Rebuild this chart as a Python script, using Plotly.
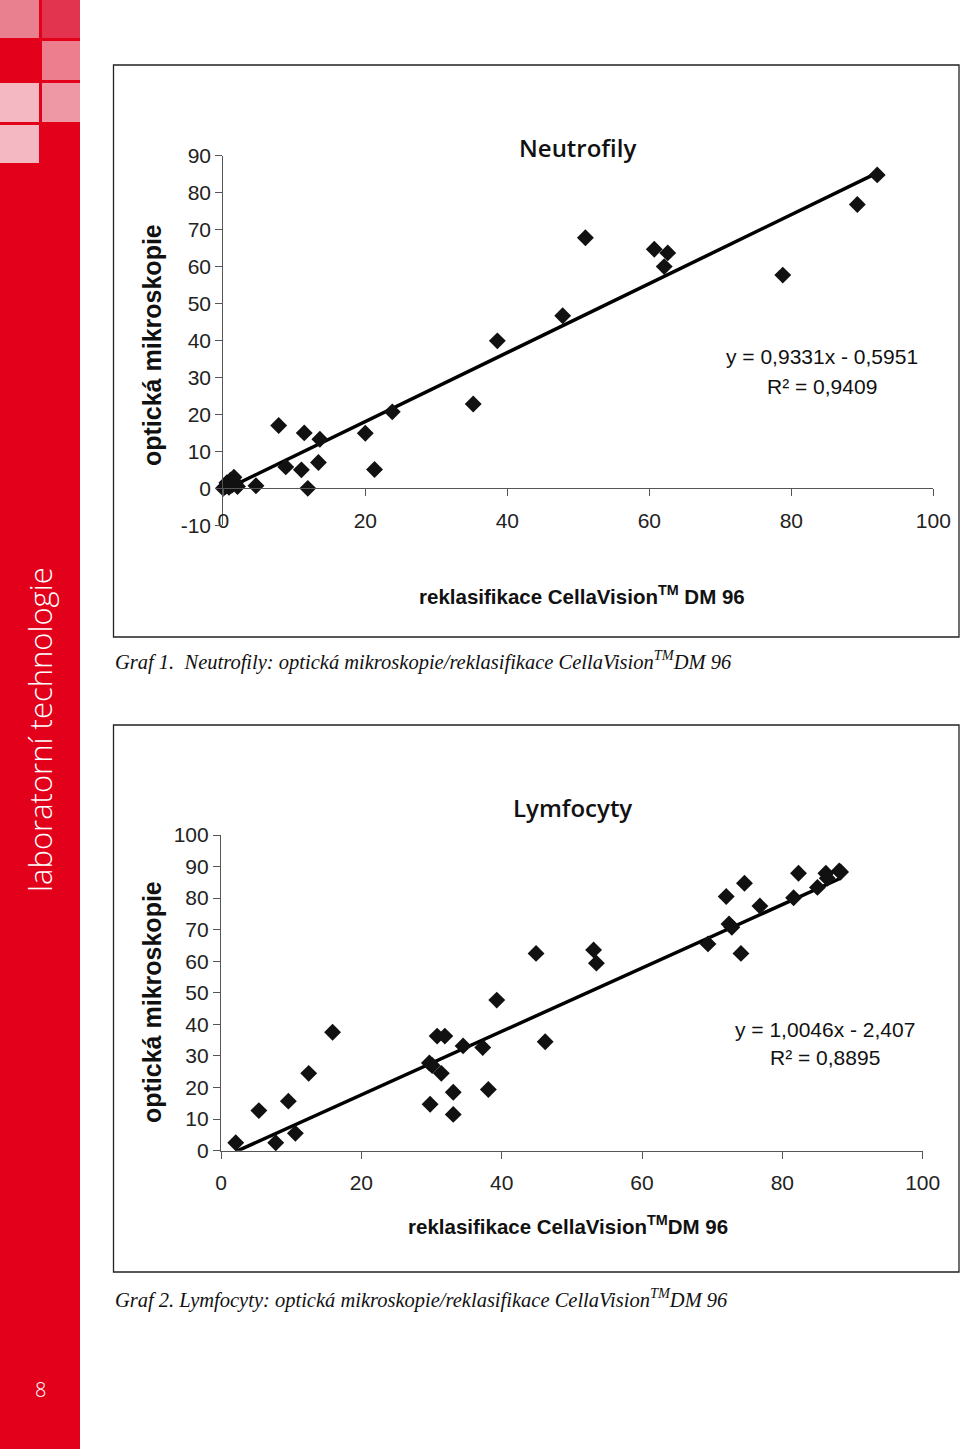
import plotly.graph_objects as go

W, H = 960, 1449

# ---------------- data ----------------
neutro_x = [0, 0.3, 0.5, 0.8, 1.0, 1.2, 1.5, 1.7, 2.0, 4.6,
            7.8, 8.8, 11.0, 11.4, 11.9, 13.4, 13.6, 20.0, 21.3, 23.8,
            35.2, 38.6, 47.8, 51.0, 60.7, 62.1, 62.6, 78.8, 89.3, 92.1]
neutro_y = [0, 0.5, 1.5, 0.3, 2.2, 0.8, 3.0, 1.5, 0.5, 0.7,
            17, 5.8, 5.0, 15, 0, 7.0, 13.3, 14.9, 5.1, 20.7,
            22.8, 39.9, 46.7, 67.8, 64.7, 60.0, 63.7, 57.7, 76.8, 84.8]
neutro_slope, neutro_icpt = 0.9331, -0.5951

lympho_x = [2.1, 5.4, 7.8, 9.6, 10.6, 12.5, 15.9,
            29.8, 29.7, 30.1, 30.8, 31.9, 31.4, 33.1, 33.1, 34.5, 37.3, 38.1, 39.3,
            44.9, 46.2, 53.1, 53.5,
            69.4, 72.0, 72.4, 72.8, 74.1, 74.6, 76.8,
            81.6, 82.3, 85.0, 86.2, 86.4, 88.1, 88.3]
lympho_y = [2.5, 12.7, 2.5, 15.7, 5.5, 24.5, 37.5,
            14.7, 27.8, 27.0, 36.3, 36.3, 24.5, 18.5, 11.5, 33.2, 32.7, 19.4, 47.7,
            62.5, 34.5, 63.6, 59.4,
            65.5, 80.5, 71.8, 70.8, 62.5, 84.7, 77.5,
            80.1, 87.9, 83.4, 87.9, 86.3, 88.6, 88.3]
lympho_slope, lympho_icpt = 1.0046, -2.407

x_ticks = [0, 20, 40, 60, 80, 100]
neutro_y_ticks = [-10, 0, 10, 20, 30, 40, 50, 60, 70, 80, 90]
neutro_y_labels = ["-10", "0", "10", "20", "30", "40", "50", "60", "70", "80", "90"]
lympho_y_ticks = [0, 10, 20, 30, 40, 50, 60, 70, 80, 90, 100]

neutro_eq = ["y = 0,9331x - 0,5951", "R² = 0,9409"]
lympho_eq = ["y = 1,0046x - 2,407", "R² = 0,8895"]

# ---------------- helpers ----------------
def px(x):
    return x / W

def py(y):
    return 1 - y / H

AX_FONT = "Liberation Sans, Arial, sans-serif"
RED = "#E2001A"

fig = go.Figure()

def fit_line(xs, slope, icpt):
    x0, x1 = min(xs), max(xs)
    return [x0, x1], [slope * x0 + icpt, slope * x1 + icpt]

# neutrophils
lx, ly = fit_line(neutro_x, neutro_slope, neutro_icpt)
fig.add_trace(go.Scatter(x=lx, y=ly, mode="lines", line=dict(color="black", width=3.5),
                         xaxis="x", yaxis="y", hoverinfo="skip", cliponaxis=False))
fig.add_trace(go.Scatter(x=neutro_x, y=neutro_y, mode="markers",
                         marker=dict(symbol="diamond", size=13, color="#111"),
                         xaxis="x", yaxis="y", cliponaxis=False))
# lymphocytes
lx, ly = fit_line(lympho_x, lympho_slope, lympho_icpt)
fig.add_trace(go.Scatter(x=lx, y=ly, mode="lines", line=dict(color="black", width=3.5),
                         xaxis="x2", yaxis="y2", hoverinfo="skip", cliponaxis=False))
fig.add_trace(go.Scatter(x=lympho_x, y=lympho_y, mode="markers",
                         marker=dict(symbol="diamond", size=13, color="#111"),
                         xaxis="x2", yaxis="y2", cliponaxis=False))

axis_common = dict(showgrid=False, zeroline=False, showline=True, linecolor="#555",
                   linewidth=1.2, ticks="outside", ticklen=7, tickcolor="#555",
                   automargin=False,
                   tickfont=dict(family=AX_FONT, size=21, color="#222"), fixedrange=True)

fig.update_layout(
    template="none",
    xaxis=dict(domain=[px(223.3), px(933.3)], range=[0, 100], tickvals=x_ticks,
               anchor="free", position=py(488.3), ticklabelstandoff=6, **axis_common),
    yaxis=dict(domain=[py(525.3), py(155.7)], range=[-10, 90], tickvals=neutro_y_ticks,
               ticktext=neutro_y_labels, anchor="x", **axis_common),
    xaxis2=dict(domain=[px(221), px(922.7)], range=[0, 100], tickvals=x_ticks,
                anchor="y2", ticklabelstandoff=6, **axis_common),
    yaxis2=dict(domain=[py(1150.7), py(835)], range=[0, 100], tickvals=lympho_y_ticks,
                anchor="x2", **axis_common),
)

shapes = []
# red sidebar
shapes.append(dict(type="rect", xref="paper", yref="paper", x0=0, x1=px(80), y0=0, y1=1,
                   fillcolor=RED, line=dict(width=0), layer="below"))
squares = [
    (0, 39, 0, 38, "#E9808F"), (42, 80, 0, 38, "#E2344E"),
    (42, 80, 41, 80, "#EC7E8E"),
    (0, 39, 83, 122, "#F4B8C2"), (42, 80, 83, 122, "#EE98A6"),
    (0, 39, 125, 163, "#F4B8C2"),
]
for x0, x1, y0, y1, c in squares:
    shapes.append(dict(type="rect", xref="paper", yref="paper", x0=px(x0), x1=px(x1),
                       y0=py(y1), y1=py(y0), fillcolor=c, line=dict(width=0), layer="below"))
# frames
for y0, y1 in [(65, 637), (725, 1272)]:
    shapes.append(dict(type="rect", xref="paper", yref="paper", x0=px(113.5), x1=px(959),
                       y0=py(y1), y1=py(y0), line=dict(color="#222", width=1.3),
                       fillcolor="rgba(0,0,0,0)", layer="below"))

ann = []
def text(x, y, s, size, family=AX_FONT, color="#111", angle=0, weight="normal",
         style="normal", xanchor="center"):
    ann.append(dict(x=px(x), y=py(y), xref="paper", yref="paper", text=s, showarrow=False,
                    xanchor=xanchor, yanchor="middle", textangle=angle,
                    font=dict(family=family, size=size, color=color, weight=weight, style=style)))

TITLE_FONT = "Open Sans, Liberation Sans, sans-serif"
# neutro
text(577, 148, "Neutrofily", 24, family=TITLE_FONT, weight=600)
text(582, 595, "reklasifikace CellaVision<sup>TM</sup> DM 96", 20.5, weight="bold")
text(152, 345, "optická mikroskopie", 25, angle=-90, weight="bold")
text(822, 356, neutro_eq[0], 21)
text(822, 386, neutro_eq[1], 21)
# lympho
text(572, 808, "Lymfocyty", 24, family=TITLE_FONT, weight=600)
text(568, 1225, "reklasifikace CellaVision<sup>TM</sup>DM 96", 20.5, weight="bold")
text(152, 1002, "optická mikroskopie", 25, angle=-90, weight="bold")
text(825, 1029, lympho_eq[0], 21)
text(825, 1057, lympho_eq[1], 21)

# captions
CAP_FONT = "Liberation Serif, Times New Roman, serif"
text(113, 660, "Graf 1.  Neutrofily: optická mikroskopie/reklasifikace CellaVision<sup>TM</sup>DM 96",
     20.5, family=CAP_FONT, style="italic", xanchor="left", color="#111")
text(113, 1298, "Graf 2. Lymfocyty: optická mikroskopie/reklasifikace CellaVision<sup>TM</sup>DM 96",
     20.5, family=CAP_FONT, style="italic", xanchor="left", color="#111")

# sidebar text
text(40, 730, "laboratorní technologie", 31, family="Open Sans, Lato, sans-serif",
     color="white", angle=-90, weight=300)
text(40, 1389, "8", 20, family="Open Sans, sans-serif", color="white", weight=300)

fig.update_layout(
    width=W, height=H, autosize=False,
    margin=dict(l=0, r=0, t=0, b=0, pad=0, autoexpand=False),
    paper_bgcolor="white", plot_bgcolor="rgba(0,0,0,0)",
    showlegend=False, shapes=shapes, annotations=ann, hovermode=False,
)

fig.write_html("out.html", config={"displayModeBar": False},
               post_script="document.body.style.margin='0';document.body.style.padding='0';"
                           "document.body.style.overflow='hidden';")
